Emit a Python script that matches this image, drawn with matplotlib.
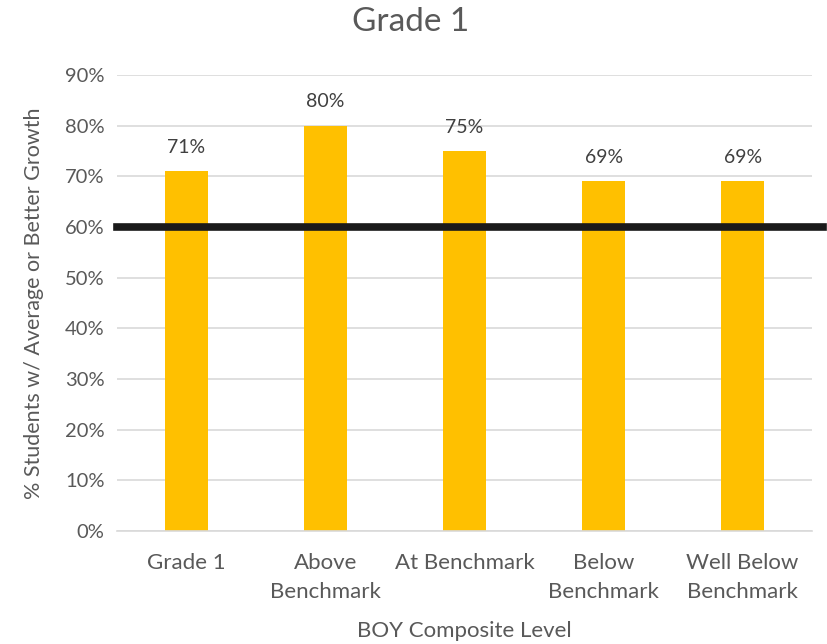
import matplotlib.pyplot as plt

plt.rcParams['font.family'] = ['Lato', 'DejaVu Sans']

levels = ['Grade 1', 'Above\nBenchmark', 'At Benchmark', 'Below\nBenchmark', 'Well Below\nBenchmark']
pct_growth = [71, 80, 75, 69, 69]
target = 60
yticks = [0, 10, 20, 30, 40, 50, 60, 70, 80, 90]

grey = '#595959'

fig = plt.figure(figsize=(8.27, 6.44), dpi=100)
ax = fig.add_axes([0.1415, 0.1755, 0.8405, 0.708])

x = range(len(levels))
ax.bar(x, pct_growth, width=0.31, color='#FFC000', zorder=2)
for i, v in zip(x, pct_growth):
    ax.text(i, v + 3, f'{v}%', ha='center', va='bottom', fontsize=14, color='#404040')

# benchmark line runs past the right edge of the plot
ax.plot([-0.5, 4.58], [target, target], color='#1a1a1a', lw=5.5, clip_on=False, zorder=3)

ax.set_xlim(-0.5, 4.5)
ax.set_ylim(0, 90)
ax.set_yticks(yticks)
ax.set_yticklabels([f'{t}%' for t in yticks], fontsize=14.5)
ax.set_xticks(list(x))
ax.set_xticklabels(levels, fontsize=16, linespacing=1.55, va='top')
ax.grid(axis='y', color='#D9D9D9', lw=1.2, zorder=0)
ax.tick_params(length=0, labelcolor=grey)
ax.tick_params(axis='x', pad=16)
ax.tick_params(axis='y', pad=9)
for s in ['top', 'right', 'left']:
    ax.spines[s].set_visible(False)
ax.spines['bottom'].set_color('#D9D9D9')
ax.spines['bottom'].set_linewidth(1.2)

fig.text(0.497, 0.966, 'Grade 1', fontsize=24, color=grey, ha='center', va='center')
ax.set_xlabel('BOY Composite Level', fontsize=16, color=grey, labelpad=14)
ax.set_ylabel('% Students w/ Average or Better Growth', fontsize=15.5, color=grey, labelpad=15)

fig.savefig('out.png', dpi=100)
